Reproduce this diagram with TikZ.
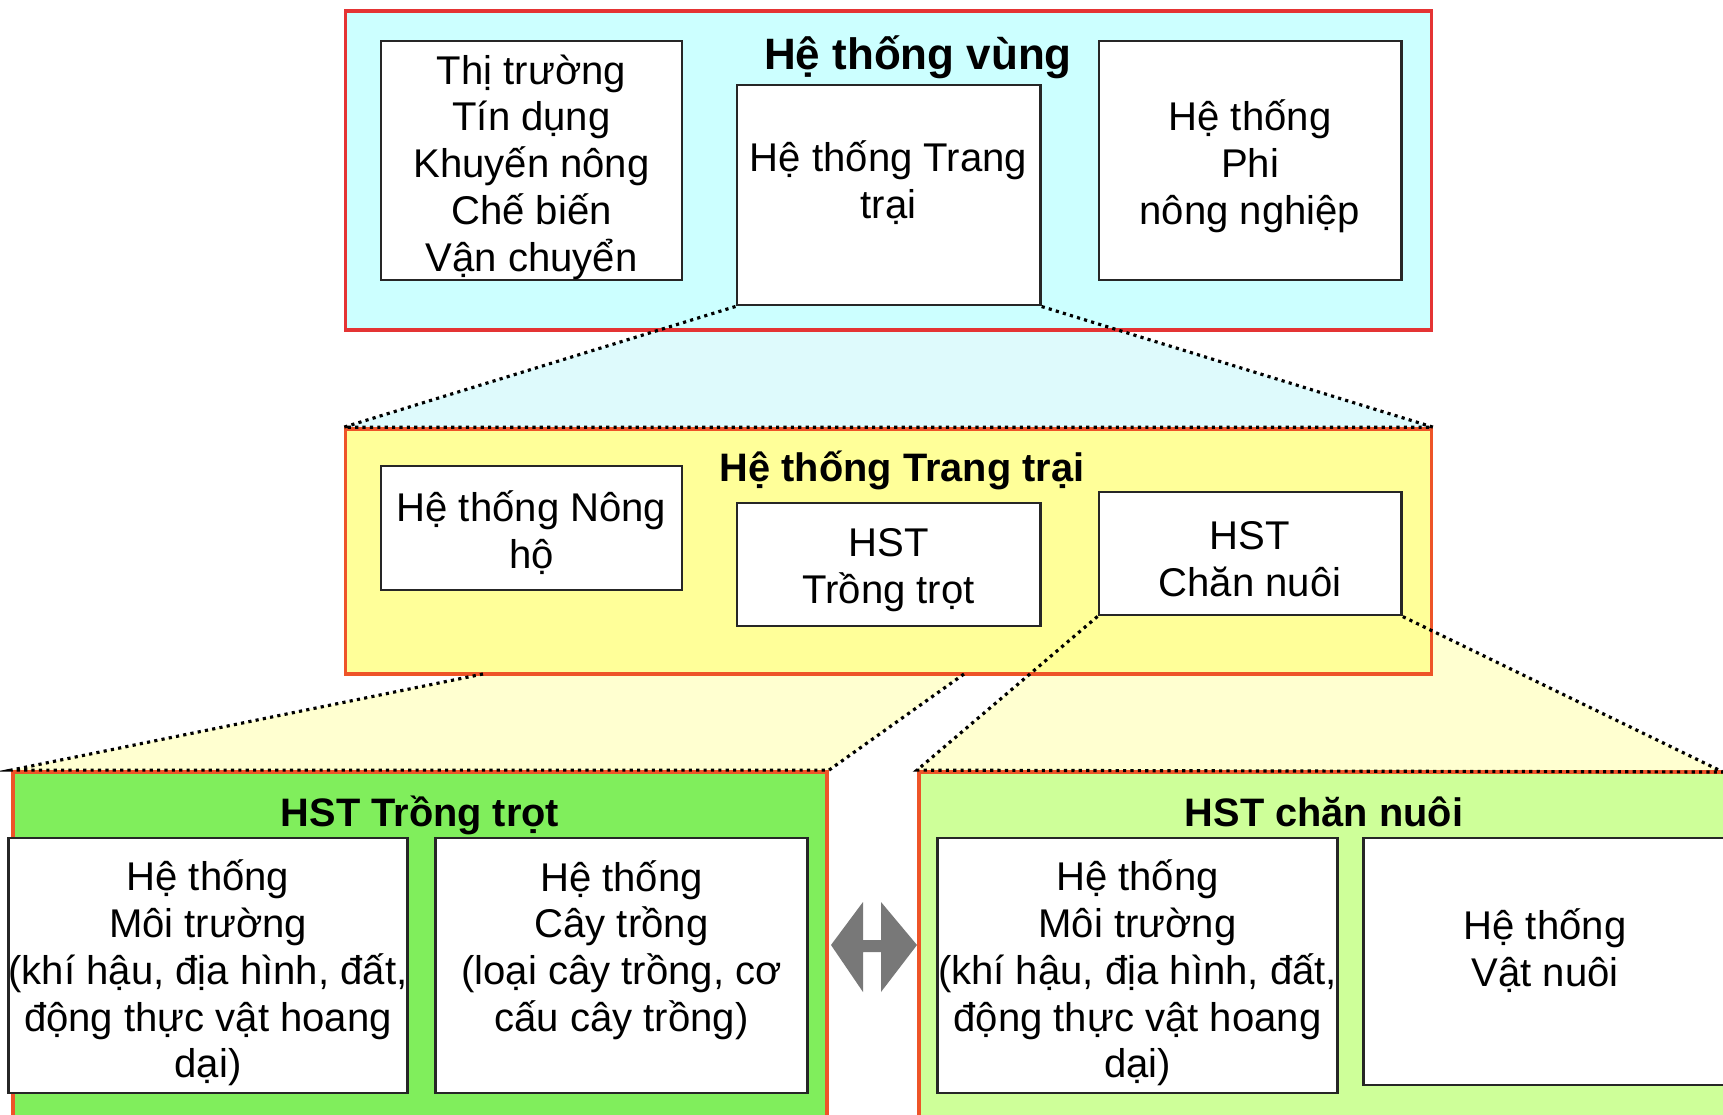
\documentclass[tikz,border=0pt]{standalone}
\usepackage{fontspec}
\setmainfont{Liberation Sans}
\usepackage{tikz}
\usetikzlibrary{backgrounds}
\definecolor{xanhvung}{RGB}{204,255,255}
\definecolor{xanhnhat}{RGB}{222,250,252}
\definecolor{vangtt}{RGB}{255,255,153}
\definecolor{vangnhat}{RGB}{255,255,208}
\definecolor{xanhla}{RGB}{128,238,92}
\definecolor{xanhnon}{RGB}{206,255,153}
\definecolor{viendo}{RGB}{228,52,52}
\definecolor{viencam}{RGB}{238,84,40}
\definecolor{xammui}{RGB}{120,120,120}
\newcommand{\chuthuong}{\fontsize{11.4pt}{13.3pt}\selectfont}
\newcommand{\chudam}{\fontsize{11.3pt}{13.3pt}\selectfont\bfseries}
\tikzstyle{hethong}=[draw=viendo, line width=1pt, inner sep=0pt]
\tikzstyle{hop}=[
        draw=black!85,
        fill=white,
        line width=0.8pt,
        inner sep=0pt
]
\tikzstyle{chu}=[align=center, font=\chuthuong]
\tikzstyle{tieude}=[font=\chudam, anchor=base]
\tikzstyle{chamcham}=[black, line width=0.9pt, dash pattern=on 0.9pt off 1.2pt]

\begin{document}
\begin{tikzpicture}[x=0.01cm, y=-0.01cm]
\useasboundingbox (0,0) rectangle (1723,1115);
% He thong vung
\node[hethong, fill=xanhvung, minimum width=10.85cm, minimum height=3.19cm] (vung) at (888.5,170.5) {};
\node[tieude, font=\fontsize{12.5pt}{14pt}\selectfont\bfseries] (vungtd) at (918,69) {Hệ thống vùng};
\node[hop, minimum width=3.01cm, minimum height=2.39cm] (dichvu) at (531.5,160.5) {};
\node[chu] (dichvuchu) at (531.5,167) {Thị trường\\Tín dụng\\Khuyến nông\\Chế biến\\Vận chuyển};
\node[hop, minimum width=3.03cm, minimum height=2.2cm] (trangtrai0) at (888.5,195) {};
\node[chu] (trangtrai0chu) at (888.5,183) {Hệ thống Trang\\trại};
\node[hop, minimum width=3.02cm, minimum height=2.39cm] (phinn) at (1250,160.5) {};
\node[chu] (phinnchu) at (1250,166) {Hệ thống\\Phi\\nông nghiệp};
% He thong trang trai
\node[hethong, draw=viencam, fill=vangtt, minimum width=10.85cm, minimum height=2.45cm] (trangtrai) at (888.5,551.5) {};
\node[tieude] (trangtraitd) at (902,481) {Hệ thống Trang trại};
\node[hop, minimum width=3.01cm, minimum height=1.24cm] (nongho) at (531.5,528) {};
\node[chu] (nonghochu) at (531.5,533) {Hệ thống Nông\\hộ};
\node[hop, minimum width=3.03cm, minimum height=1.23cm] (trongtrot0) at (888.5,564.5) {};
\node[chu] (trongtrot0chu) at (888.5,570) {HST\\Trồng trọt};
\node[hop, minimum width=3.02cm, minimum height=1.23cm] (channuoi0) at (1250,553.5) {};
\node[chu] (channuoi0chu) at (1250,559) {HST\\Chăn nuôi};
% HST trong trot va chan nuoi
\node[hethong, draw=viencam, fill=xanhla, minimum width=8.14cm, minimum height=3.58cm] (trongtrot) at (420,951) {};
\node[tieude] (trongtrottd) at (420,826) {HST Trồng trọt};
\node[hop, minimum width=3.98cm, minimum height=2.55cm] (moitruong1) at (208,965.5) {};
\node[chu] (moitruong1chu) at (208,973) {Hệ thống\\Môi trường\\(khí hậu, địa hình, đất,\\động thực vật hoang\\dại)};
\node[hop, minimum width=3.71cm, minimum height=2.55cm] (caytrong) at (621.5,965.5) {};
\node[chu] (caytrongchu) at (621.5,950) {Hệ thống\\Cây trồng\\(loại cây trồng, cơ\\cấu cây trồng)};
\node[hethong, draw=viencam, fill=xanhnon, minimum width=8.21cm, minimum height=3.58cm] (channuoi) at (1329.5,951) {};
\node[tieude] (channuoitd) at (1324,826) {HST chăn nuôi};
\node[hop, minimum width=3.99cm, minimum height=2.55cm] (moitruong2) at (1137.5,965.5) {};
\node[chu] (moitruong2chu) at (1137.5,973) {Hệ thống\\Môi trường\\(khí hậu, địa hình, đất,\\động thực vật hoang\\dại)};
\node[hop, minimum width=3.62cm, minimum height=2.47cm] (vatnuoi) at (1545,961.5) {};
\node[chu] (vatnuoichu) at (1545,951) {Hệ thống\\Vật nuôi};
\coordinate (ttA) at (483,674);
\coordinate (ttB) at (964,674);
\coordinate (cnE) at (1723,772);
% vung phong to
\begin{scope}[on background layer]
\fill[white] (0,0) rectangle (1723,1115);
\fill[xanhnhat] (trangtrai0.south west) -- (trangtrai0.south east) -- (trangtrai.north east) -- (trangtrai.north west) -- cycle;
\fill[vangnhat] (ttA) -- (ttB) -- (trongtrot.north east) -- (trongtrot.north west) -- cycle;
\fill[vangnhat] (channuoi0.south west) -- (channuoi0.south east) -- (cnE) -- (channuoi.north west) -- cycle;
\end{scope}
\draw[chamcham] (trangtrai0.south west) -- (trangtrai.north west) -- (trangtrai.north east) -- (trangtrai0.south east);
\draw[chamcham] (ttA) -- (trongtrot.north west) -- (trongtrot.north east) -- (ttB);
\draw[chamcham] (channuoi0.south west) -- (channuoi.north west) -- (cnE) -- (channuoi0.south east);
% mui ten hai chieu
\fill[xammui] (831,945) -- (863,902) -- (863,940) -- (881,940) -- (881,902) -- (917,945)
  -- (881,992) -- (881,952) -- (863,952) -- (863,992) -- cycle;
\end{tikzpicture}
\end{document}
